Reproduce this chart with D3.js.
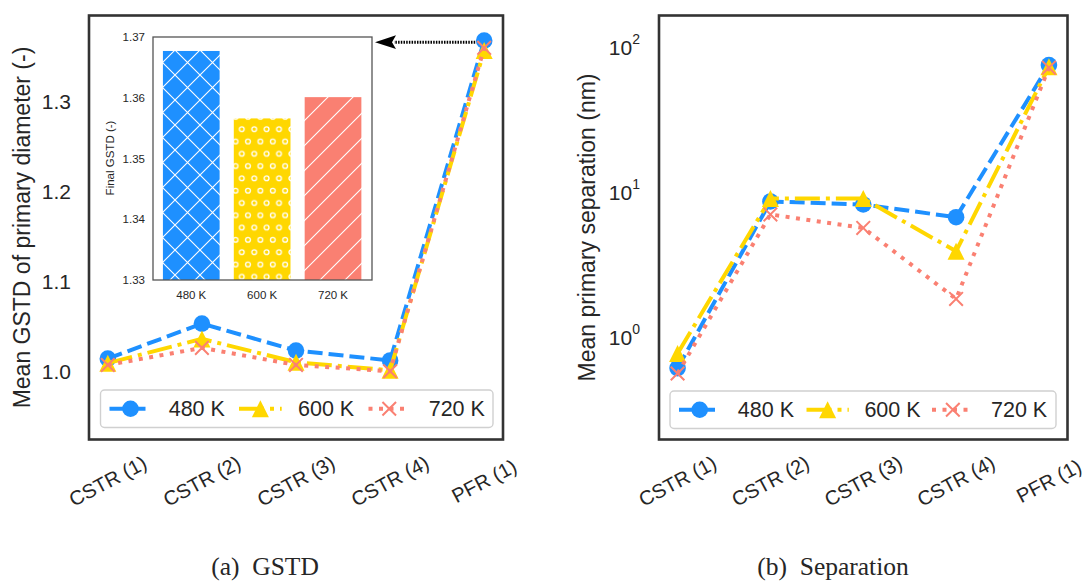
<!DOCTYPE html>
<html>
<head>
<meta charset="utf-8">
<script src="https://cdnjs.cloudflare.com/ajax/libs/d3/7.8.5/d3.min.js"></script>
<style>
  body { margin: 0; background: #fff; }
  text { font-family: "Liberation Sans", Arial, sans-serif; fill: #262626; }
</style>
</head>
<body>
<svg id="fig" width="1084" height="581"></svg>
<script>
// reactor stages
var stages = ["CSTR (1)", "CSTR (2)", "CSTR (3)", "CSTR (4)", "PFR (1)"];
var temps = ["480 K", "600 K", "720 K"];

// (a) mean GSTD of primary diameter
var gstd480 = [1.014, 1.053, 1.023, 1.012, 1.368];
var gstd600 = [1.009, 1.036, 1.010, 1.001, 1.357];
var gstd720 = [1.007, 1.026, 1.007, 1.000, 1.360];
var gstdTicks = [1.0, 1.1, 1.2, 1.3];

// inset: final GSTD
var finalGstd = [1.3677, 1.3566, 1.3601];
var insetTicks = [1.33, 1.34, 1.35, 1.36, 1.37];

// (b) mean primary separation (nm)
var sep480 = [0.61, 8.6, 8.2, 6.7, 75];
var sep600 = [0.77, 9.0, 9.0, 3.9, 73];
var sep720 = [0.56, 7.0, 5.65, 1.83, 72];
var sepTicks = [1, 10, 100];

var colors = ["#1e90ff", "#ffd700", "#fa8072"];
var dashes = ["15,6", "25,6,4,6", "4,6.5"];

var svg = d3.select("#fig");
var defs = svg.append("defs");

// hatch patterns for the inset bars
var p1 = defs.append("pattern").attr("id", "hx").attr("patternUnits", "userSpaceOnUse")
    .attr("width", 25).attr("height", 25);
p1.append("rect").attr("width", 25).attr("height", 25).attr("fill", colors[0]);
p1.append("path").attr("d", "M-2,-2L27,27M27,-2L-2,27")
    .attr("stroke", "#fff").attr("stroke-width", 1.1);

var p2 = defs.append("pattern").attr("id", "ho").attr("patternUnits", "userSpaceOnUse")
    .attr("width", 12.4).attr("height", 24.6);
p2.append("rect").attr("width", 12.4).attr("height", 24.6).attr("fill", colors[1]);
[[6.2, 6.15], [0, 18.45], [12.4, 18.45]].forEach(function(c) {
    p2.append("circle").attr("cx", c[0]).attr("cy", c[1]).attr("r", 2.4)
        .attr("fill", "none").attr("stroke", "#fff").attr("stroke-width", 1.3);
});

var p3 = defs.append("pattern").attr("id", "hs").attr("patternUnits", "userSpaceOnUse")
    .attr("width", 25).attr("height", 25);
p3.append("rect").attr("width", 25).attr("height", 25).attr("fill", colors[2]);
p3.append("path").attr("d", "M-2,27L27,-2M-5,5L5,-5M20,30L30,20")
    .attr("stroke", "#fff").attr("stroke-width", 1.1);

var hatches = ["url(#hx)", "url(#ho)", "url(#hs)"];

function marker(g, kind, x, y, col) {
    if (kind == 0) {
        g.append("circle").attr("cx", x).attr("cy", y).attr("r", 8.3).attr("fill", col);
    } else if (kind == 1) {
        var r = 8.5;
        g.append("path").attr("d", "M" + x + "," + (y - r) + "L" + (x - r) + "," + (y + r) + "L" + (x + r) + "," + (y + r) + "Z")
            .attr("fill", col);
    } else {
        var s = 6.8;
        g.append("path").attr("d", "M" + (x - s) + "," + (y - s) + "L" + (x + s) + "," + (y + s) + "M" + (x + s) + "," + (y - s) + "L" + (x - s) + "," + (y + s))
            .attr("stroke", col).attr("stroke-width", 2).attr("fill", "none");
    }
}

function drawPanel(o) {
    var g = svg.append("g");
    var x = d3.scaleLinear().domain([-0.2, 4.2]).range([o.left, o.right]);
    var y = o.y;

    // y ticks
    o.ticks.forEach(function(t) {
        var tx = g.append("text").attr("x", o.tickX).attr("y", y(t)).attr("dy", "0.36em")
            .attr("text-anchor", "end").attr("font-size", 21);
        if (o.log) {
            var e = Math.round(Math.log10(t));
            tx.append("tspan").text("10");
            tx.append("tspan").attr("font-size", 14).attr("dy", "-0.75em").text(e);
        } else {
            tx.text(t.toFixed(1));
        }
    });

    // x tick labels, rotated
    stages.forEach(function(s, i) {
        g.append("text").attr("transform", "translate(" + x(i) + ",481) rotate(-28)")
            .attr("text-anchor", "middle").attr("dy", "0.35em").attr("font-size", 20).text(s);
    });

    // y label
    g.append("text").attr("transform", "translate(" + o.labelX + "," + ((o.top + o.bottom) / 2) + ") rotate(-90)")
        .attr("text-anchor", "middle").attr("dy", "0.35em").attr("font-size", 23).text(o.label);

    // series
    o.series.forEach(function(vals, k) {
        var line = d3.line().x(function(d, i) { return x(i); }).y(function(d) { return y(d); });
        g.append("path").datum(vals).attr("d", line).attr("fill", "none")
            .attr("stroke", colors[k]).attr("stroke-width", 4).attr("stroke-dasharray", dashes[k]);
        vals.forEach(function(v, i) { marker(g, k, x(i), y(v), colors[k]); });
    });

    // frame
    g.append("rect").attr("x", o.left).attr("y", o.top).attr("width", o.right - o.left)
        .attr("height", o.bottom - o.top).attr("fill", "none").attr("stroke", "#333").attr("stroke-width", 2.6);

    // legend
    var lg = g.append("g");
    lg.append("rect").attr("x", o.leg.x0).attr("y", o.leg.y0).attr("width", o.leg.x1 - o.leg.x0)
        .attr("height", o.leg.y1 - o.leg.y0).attr("rx", 4).attr("fill", "#fff").attr("fill-opacity", 0.85)
        .attr("stroke", "#d0d0d0").attr("stroke-width", 1.4);
    var ly = (o.leg.y0 + o.leg.y1) / 2;
    temps.forEach(function(t, k) {
        var h = o.leg.handles[k];
        lg.append("line").attr("x1", h[0]).attr("x2", h[1]).attr("y1", ly).attr("y2", ly)
            .attr("stroke", colors[k]).attr("stroke-width", 4).attr("stroke-dasharray", dashes[k]);
        marker(lg, k, (h[0] + h[1]) / 2, ly, colors[k]);
        lg.append("text").attr("x", o.leg.texts[k]).attr("y", ly).attr("dy", "0.36em")
            .attr("font-size", 21.5).text(t);
    });
    return x;
}

var yL = d3.scaleLinear().domain([0.924, 1.396]).range([439.5, 15.5]);
var xL = drawPanel({
    left: 89, right: 503, top: 15.5, bottom: 439.5, y: yL, ticks: gstdTicks, log: false,
    tickX: 71, labelX: 22, label: "Mean GSTD of primary diameter (-)",
    series: [gstd480, gstd600, gstd720],
    leg: { x0: 100.5, x1: 493, y0: 390, y1: 427.5,
           handles: [[109.5, 151.5], [239, 281.7], [368.5, 410]], texts: [168.7, 298, 428.7] }
});

var yR = d3.scaleLog().domain([Math.pow(10, -0.707), Math.pow(10, 2.217)]).range([439.5, 15.5]);
drawPanel({
    left: 659, right: 1067.5, top: 15.5, bottom: 439.5, y: yR, ticks: sepTicks, log: true,
    tickX: 640, labelX: 587, label: "Mean primary separation (nm)",
    series: [sep480, sep600, sep720],
    leg: { x0: 670, x1: 1056, y0: 391, y1: 428.5,
           handles: [[679, 720.4], [806.5, 848.8], [932, 973.7]], texts: [737.8, 864.4, 991] }
});

// inset bar chart
var ins = svg.append("g");
var ix = d3.scaleLinear().domain([-0.54, 2.55]).range([153, 372]);
var iy = d3.scaleLinear().domain([1.33, 1.37]).range([280, 37]);
ins.append("rect").attr("x", 153).attr("y", 37).attr("width", 219).attr("height", 243).attr("fill", "#fff");
ins.selectAll("rect.bar").data(finalGstd).enter().append("rect").attr("class", "bar")
    .attr("x", function(d, i) { return ix(i - 0.4); })
    .attr("width", function() { return ix(0.4) - ix(-0.4); })
    .attr("y", function(d) { return iy(d); })
    .attr("height", function(d) { return iy(1.33) - iy(d); })
    .attr("fill", function(d, i) { return hatches[i]; });
ins.append("rect").attr("x", 153).attr("y", 37).attr("width", 219).attr("height", 243)
    .attr("fill", "none").attr("stroke", "#555").attr("stroke-width", 1.3);
insetTicks.forEach(function(t) {
    ins.append("text").attr("x", 145).attr("y", iy(t)).attr("dy", "0.36em").attr("text-anchor", "end")
        .attr("font-size", 11.5).text(t.toFixed(2));
});
temps.forEach(function(t, i) {
    ins.append("text").attr("x", ix(i)).attr("y", 295).attr("dy", "0.36em").attr("text-anchor", "middle")
        .attr("font-size", 11.5).text(t);
});
ins.append("text").attr("transform", "translate(110,158) rotate(-90)").attr("text-anchor", "middle")
    .attr("dy", "0.35em").attr("font-size", 11.5).text("Final GSTD (-)");

// arrow from the PFR point to the inset
var ay = yL(gstd480[4]) + 1.5;
ins.append("line").attr("x1", xL(4) - 9).attr("x2", 394).attr("y1", ay).attr("y2", ay)
    .attr("stroke", "#000").attr("stroke-width", 3).attr("stroke-dasharray", "1.5,1.2");
ins.append("path").attr("d", "M375," + ay + "L396," + (ay - 6.8) + "L392," + ay + "L396," + (ay + 6.8) + "Z")
    .attr("fill", "#000");

// captions
svg.append("text").attr("x", 265).attr("y", 575).attr("text-anchor", "middle")
    .style("font-family", "'Liberation Serif', 'Times New Roman', serif").attr("font-size", 25.5)
    .attr("fill", "#000").text("(a)\u00a0\u00a0GSTD");
svg.append("text").attr("x", 833).attr("y", 575).attr("text-anchor", "middle")
    .style("font-family", "'Liberation Serif', 'Times New Roman', serif").attr("font-size", 25.5)
    .attr("fill", "#000").text("(b)\u00a0\u00a0Separation");
</script>
</body>
</html>
